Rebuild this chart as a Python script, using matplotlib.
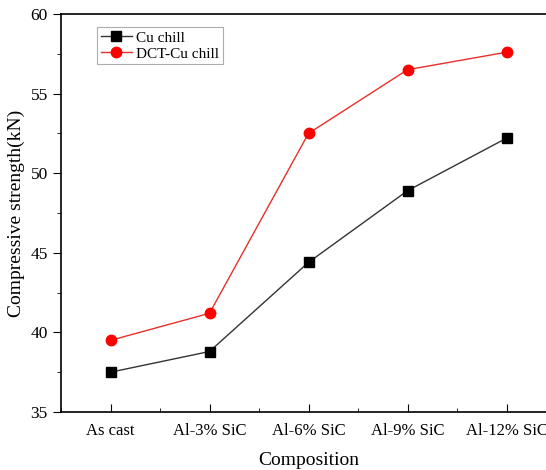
import matplotlib.pyplot as plt
from matplotlib.ticker import MultipleLocator

# data
compositions = ['As cast', 'Al-3% SiC', 'Al-6% SiC', 'Al-9% SiC', 'Al-12% SiC']
cu_chill = [37.5, 38.8, 44.4, 48.9, 52.2]
dct_cu_chill = [39.5, 41.2, 52.5, 56.5, 57.6]

plt.rcParams['font.family'] = ['Liberation Serif', 'DejaVu Serif']

fig = plt.figure(figsize=(5.46, 4.70), dpi=100)
# right side of the frame runs past the image edge, like the reference crop
ax = fig.add_axes([61 / 546, 58 / 470, 495 / 546, 398 / 470])

x = list(range(len(compositions)))
ax.plot(x, cu_chill, color='#333333', lw=1.0, marker='s', ms=6.5,
        mfc='black', mec='black', label='Cu chill')
ax.plot(x, dct_cu_chill, color='#e8302a', lw=1.0, marker='o', ms=7.5,
        mfc='red', mec='red', label='DCT-Cu chill')

ax.set_xlim(-0.5, 4.5)
ax.set_ylim(35, 60)
ax.set_xticks(x)
ax.set_xticklabels(compositions)
ax.xaxis.set_minor_locator(MultipleLocator(0.5))
ax.yaxis.set_major_locator(MultipleLocator(5))
ax.yaxis.set_minor_locator(MultipleLocator(2.5))

ax.tick_params(axis='x', which='both', direction='in', labelsize=12, pad=8)
ax.tick_params(axis='x', which='major', length=6)
ax.tick_params(axis='x', which='minor', length=3)
ax.tick_params(axis='y', which='both', direction='out', labelsize=12.5)
ax.tick_params(axis='y', which='major', length=6)
ax.tick_params(axis='y', which='minor', length=3)

for s in ax.spines.values():
    s.set_linewidth(1.2)

ax.set_xlabel('Composition', fontsize=14, labelpad=9)
ax.set_ylabel('Compressive strength(kN)', fontsize=14, labelpad=4)

leg = ax.legend(loc='upper left', bbox_to_anchor=(0.073, 0.967), fontsize=11,
                frameon=True, fancybox=False, edgecolor='#999999',
                handlelength=2.0, borderpad=0.25, labelspacing=0.15,
                handletextpad=0.3, borderaxespad=0)
leg.get_frame().set_linewidth(0.8)

fig.savefig('out.png', dpi=100)
